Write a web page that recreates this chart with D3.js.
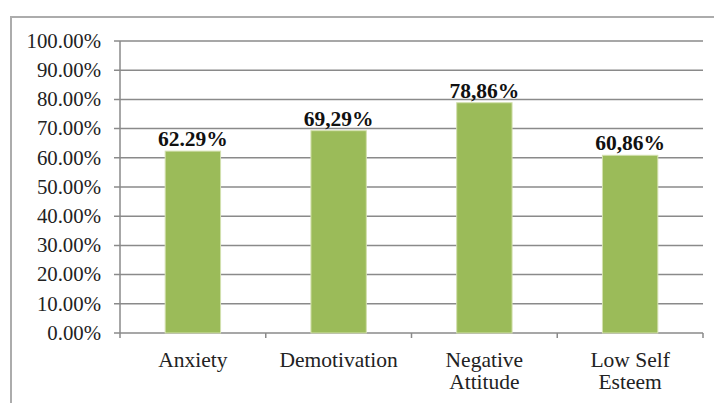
<!DOCTYPE html>
<html>
<head>
<meta charset="utf-8">
<script src="https://cdn.jsdelivr.net/npm/d3@7"></script>
<style>
  html, body { margin: 0; padding: 0; background: #fff; }
  svg { display: block; }
</style>
</head>
<body>
<svg id="chart" width="714" height="403" font-family="'Liberation Serif', 'DejaVu Serif', serif"></svg>
<script>
const categories = [["Anxiety"], ["Demotivation"], ["Negative", "Attitude"], ["Low Self", "Esteem"]];
const values = [62.29, 69.29, 78.86, 60.86];
const valueLabels = ["62.29%", "69,29%", "78,86%", "60,86%"];
const yTicks = [0, 10, 20, 30, 40, 50, 60, 70, 80, 90, 100];

(function () {
const svg = d3.select("#chart");
const pLeft = 120, pRight = 703, pTop = 41, pBottom = 333;

// outer frame (cropped on right and bottom)
svg.append("rect")
  .attr("x", 11).attr("y", 17).attr("width", 720).attr("height", 420)
  .attr("fill", "none").attr("stroke", "#acacac").attr("stroke-width", 2);

const idx = categories.map((d, i) => i);
const x = d3.scaleBand().domain(idx).range([pLeft, pRight]).paddingInner(0.62).paddingOuter(0.31);
const y = d3.scaleLinear().domain([0, 100]).range([pBottom, pTop]);

// gridlines + y ticks
svg.append("g").selectAll("line").data(yTicks).join("line")
  .attr("x1", pLeft - 6).attr("x2", pRight)
  .attr("y1", d => y(d)).attr("y2", d => y(d))
  .attr("stroke", "#8a8a8a").attr("stroke-width", 1.5);

// y axis line
svg.append("line")
  .attr("x1", pLeft).attr("x2", pLeft).attr("y1", pTop).attr("y2", pBottom + 5)
  .attr("stroke", "#8a8a8a").attr("stroke-width", 1.5);

// x tick marks at band boundaries
const step = x.step();
svg.append("g").selectAll("line").data(idx).join("line")
  .attr("x1", d => pLeft + (d + 1) * step).attr("x2", d => pLeft + (d + 1) * step)
  .attr("y1", pBottom).attr("y2", pBottom + 5)
  .attr("stroke", "#8a8a8a").attr("stroke-width", 1.5);

// y tick labels
svg.append("g").selectAll("text").data(yTicks).join("text")
  .attr("x", 101).attr("y", d => y(d)).attr("dy", "0.33em")
  .attr("text-anchor", "end").attr("font-size", 20.8)
  .attr("fill", "#222")
  .text(d => d.toFixed(2) + "%");

// bars
svg.append("g").selectAll("rect").data(values).join("rect")
  .attr("x", (d, i) => x(i)).attr("width", x.bandwidth())
  .attr("y", d => y(d)).attr("height", d => y(0) - y(d))
  .attr("fill", "#9bbb59")
  .attr("stroke", "#d3e0ae").attr("stroke-width", 1);

// value labels
svg.append("g").selectAll("text").data(values).join("text")
  .attr("x", (d, i) => x(i) + x.bandwidth() / 2)
  .attr("y", d => y(d) - 5)
  .attr("text-anchor", "middle").attr("font-size", 21.5).attr("font-weight", "bold")
  .attr("fill", "#111")
  .text((d, i) => valueLabels[i]);

// category labels
const cat = svg.append("g").selectAll("text").data(categories).join("text")
  .attr("text-anchor", "middle").attr("font-size", 21.5).attr("fill", "#222")
  .attr("x", (d, i) => x(i) + x.bandwidth() / 2)
  .attr("y", pBottom + 34);
cat.selectAll("tspan").data(d => d).join("tspan")
  .attr("x", function () { return d3.select(this.parentNode).attr("x"); })
  .attr("dy", (d, j) => j === 0 ? 0 : 22)
  .text(d => d);
})();
</script>
</body>
</html>
